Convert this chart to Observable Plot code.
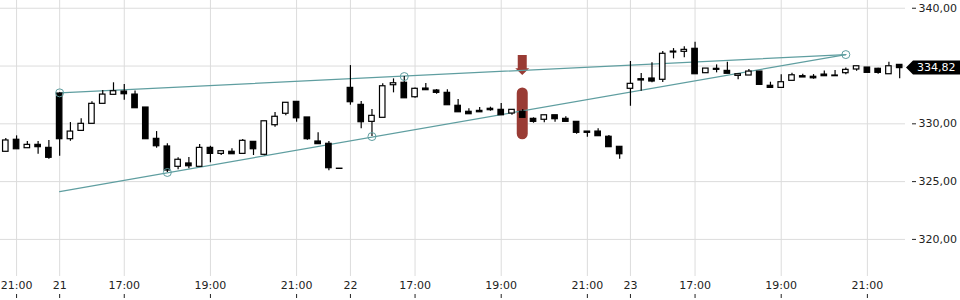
<!DOCTYPE html>
<html><head><meta charset="utf-8">
<script src="https://cdn.jsdelivr.net/npm/d3@7"></script>
<script src="https://cdn.jsdelivr.net/npm/@observablehq/plot@0.6"></script>
<style>body{margin:0;background:#fff}#chart{width:960px;height:300px}</style>
</head><body><div id="chart"></div>
<script>
// 15-minute candles (index 0 = 20:45 on day 20)
const open = [327.58,328.62,327.89,328.18,327.92,332.62,328.67,329.39,330.00,331.73,332.51,332.79,332.53,331.41,328.70,328.04,326.28,326.57,326.28,327.92,327.40,327.58,327.40,328.44,327.32,329.88,330.87,331.90,330.55,328.47,328.27,326.12,333.11,331.64,330.17,330.52,333.34,333.55,332.30,333.05,332.88,332.68,331.56,331.04,331.12,331.30,331.21,330.89,331.04,330.43,330.35,330.74,330.43,330.17,329.33,329.33,328.88,328.01,333.03,333.86,333.92,333.81,336.25,336.23,336.49,334.38,334.76,334.58,334.15,334.18,334.52,333.29,333.11,333.72,334.12,334.07,334.26,334.12,334.38,334.70,334.87,334.76,334.29,335.10];
const high = [328.73,328.96,328.47,328.47,328.56,332.68,330.11,330.43,331.90,332.88,333.55,333.40,332.85,331.41,329.33,328.27,327.06,327.08,328.21,328.06,327.63,327.84,328.64,328.44,330.22,330.98,331.82,331.90,330.55,329.22,328.47,326.12,335.04,331.93,331.24,333.46,333.89,334.09,333.11,333.49,332.97,332.94,332.10,331.30,331.41,331.44,331.76,331.21,331.24,330.52,330.74,330.74,330.61,330.17,329.33,329.57,328.99,328.01,335.39,334.35,335.28,336.25,336.51,336.66,337.06,334.78,335.10,335.33,334.29,334.70,334.52,333.60,334.24,334.38,334.29,334.26,334.58,334.61,334.84,334.98,334.87,334.81,335.33,335.10];
const low = [327.58,327.80,327.89,327.37,326.94,327.20,328.49,329.39,330.00,331.73,332.51,332.04,331.35,328.67,327.89,325.79,326.02,326.11,326.28,326.63,327.26,327.37,327.40,327.26,327.23,329.71,330.69,330.14,328.58,328.24,325.93,326.10,331.61,329.57,328.90,330.52,332.68,332.21,332.21,332.91,332.56,331.61,331.00,330.83,331.00,331.09,330.74,330.74,330.52,330.05,330.09,330.14,330.17,329.10,328.84,328.93,327.98,326.94,331.52,332.82,333.55,333.57,335.62,335.71,334.29,334.38,334.41,334.33,333.81,334.18,333.37,333.11,333.11,333.72,334.01,333.86,334.12,334.12,334.24,334.55,334.41,334.29,334.29,333.89];
const close = [328.56,327.80,328.18,327.98,327.06,328.67,329.33,330.00,331.73,332.53,332.82,332.56,331.35,328.67,328.06,325.96,326.89,326.33,327.92,327.40,327.63,327.37,328.53,327.80,330.22,330.61,331.82,330.48,328.67,328.24,326.16,326.10,331.87,330.14,330.69,333.25,333.51,332.21,333.03,332.91,332.68,331.61,331.00,330.83,331.00,331.18,330.74,331.21,330.52,330.17,330.74,330.40,330.17,329.22,329.22,328.93,327.98,327.37,333.46,333.75,333.66,336.06,336.17,336.40,334.29,334.78,334.67,334.33,334.29,334.52,333.37,333.11,333.60,334.20,334.01,333.94,334.12,334.18,334.67,334.98,334.41,334.41,334.98,334.82];

const tickIndex = [1,5,11,19,27,32,38,46,54,58,64,72,80];
const tickLabels = ["21:00","21","17:00","19:00","21:00","22","17:00","19:00","21:00","23","17:00","19:00","21:00"];
const yGrid = [320,325,330,335,340];
const yLabels = [320,325,330,340]; // 335,00 sits under the last-price tag

// trend channel
const trendIndex = [5,78];
const upperPrices = [332.68,335.99];
const lowerPrices = [324.14,335.99];
const pivotIndex = [5,15,34,37,78];
const pivotPrice = [332.68,325.79,328.90,334.09,335.99];

// signal marker
const signalIndex = 48;
const arrowPrices = [335.91,334.18];
const barPrices = [333.11,328.62];

const rows = open.map((o,i)=>({i,o,h:high[i],l:low[i],c:close[i],up:close[i]>=o}));
const trendRows = [
  ...trendIndex.map((i,k)=>({i,p:upperPrices[k],z:"upper"})),
  ...trendIndex.map((i,k)=>({i,p:lowerPrices[k],z:"lower"}))
];
const pivots = pivotIndex.map((i,k)=>({i,p:pivotPrice[k]}));
const lastClose = close[close.length-1];
const fmt = v => v.toFixed(2).replace(".", ",");
const labelOf = i => tickLabels[tickIndex.indexOf(i)];
const half = 0.255;
const teal = "#5f9ea0";
const red = "#993b34";

function signalArrow(index, scales) {
  const x = scales.x(signalIndex), y0 = scales.y(arrowPrices[0]), tip = scales.y(arrowPrices[1]);
  const sw = 4.5, hw = 7, hh = 6.7;
  return d3.create("svg:path")
    .attr("d", `M${x-sw},${y0}H${x+sw}V${tip-hh}H${x+hw}L${x},${tip}L${x-hw},${tip-hh}H${x-sw}Z`)
    .attr("fill", red).node();
}
function priceTag(index, scales, values, dims) {
  const y = scales.y(lastClose);
  const x0 = dims.width - dims.marginRight + 1;
  const g = d3.create("svg:g");
  g.append("path")
    .attr("d", `M${x0},${y}L${x0+7},${y-7}H${dims.width}V${y+7}H${x0+7}Z`)
    .attr("fill", "#000");
  g.append("text").attr("x", x0+11).attr("y", y).attr("dy", "0.35em")
    .attr("text-anchor", "start")
    .attr("fill", "#fff").attr("font-size", "11px").text(fmt(lastClose));
  return g.node();
}

const chart = Plot.plot({
  width: 960, height: 300,
  marginLeft: 0, marginRight: 55, marginTop: 0, marginBottom: 24,
  style: {fontFamily: "'DejaVu Sans', sans-serif", fontSize: "11px", color: "#222", background: "#fff"},
  x: {type: "linear", domain: [-0.492, 83.54]},
  y: {domain: [316.79, 340.67]},
  marks: [
    Plot.gridX(tickIndex, {stroke: "#dcdcdc", strokeOpacity: 1}),
    Plot.gridY(yGrid, {stroke: "#dcdcdc", strokeOpacity: 1}),
    Plot.rect([{i:signalIndex}], {x1: d=>d.i-0.51, x2: d=>d.i+0.51, y1: ()=>barPrices[0], y2: ()=>barPrices[1], rx: 5.5, fill: red}),
    signalArrow,
    Plot.line(trendRows, {x: "i", y: "p", z: "z", stroke: teal, strokeWidth: 1.2}),
    Plot.ruleX(rows, {x: "i", y1: "l", y2: "h", stroke: "#000", strokeWidth: 1.2}),
    Plot.rect(rows, {x1: d=>d.i-half, x2: d=>d.i+half, y1: "o", y2: "c", fill: d=>d.up?"#fff":"#000", stroke: "#000", strokeWidth: 1.2}),
    Plot.dot(pivots, {x: "i", y: "p", r: 4, stroke: teal, strokeWidth: 1, fill: "none"}),
    Plot.axisX(tickIndex, {tickSize: 0, tickPadding: 5, tickFormat: labelOf, label: null}),
    Plot.axisX(tickIndex, {tickSize: 4, tickFormat: () => "", dy: 18, label: null}),
    Plot.axisY(yLabels, {anchor: "right", tickSize: 4, tickPadding: 3, dx: 6, tickFormat: fmt, label: null}),
    priceTag
  ]
});
document.getElementById("chart").append(chart);
</script>
</body></html>
